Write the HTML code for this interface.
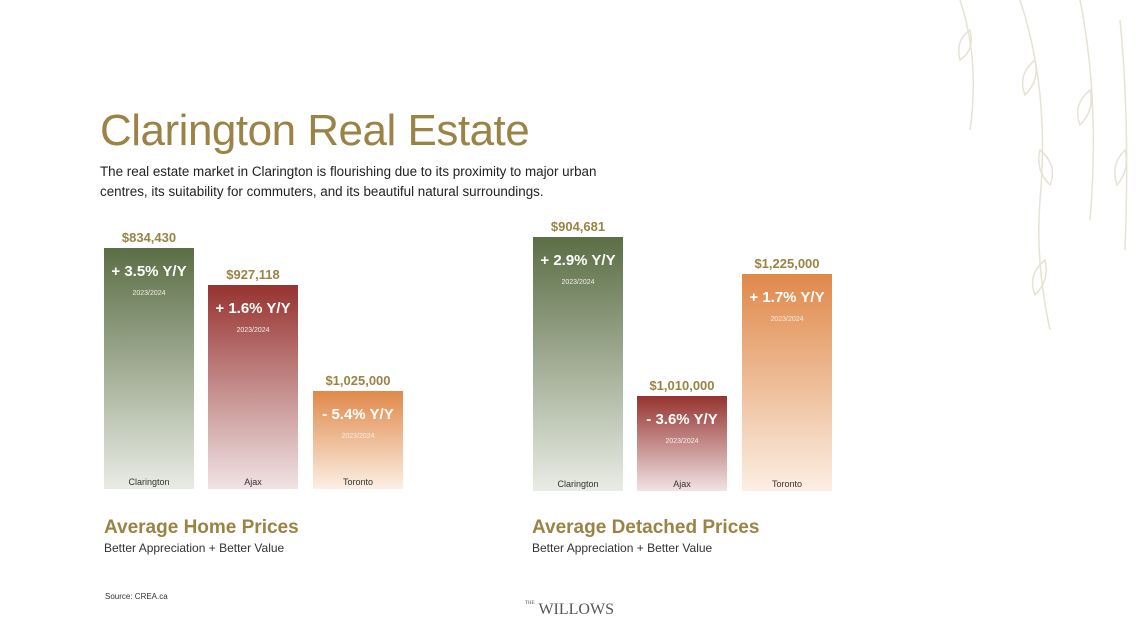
<!DOCTYPE html>
<html><head><style>
body{margin:0;width:1140px;height:638px;background:#fff;position:relative;overflow:hidden;font-family:"Liberation Sans",sans-serif}
.a{position:absolute}
h1{position:absolute;left:100px;top:106px;margin:0;font-weight:400;font-size:44px;color:#9a8344;letter-spacing:-0.5px}
.p{left:100px;top:162px;font-size:13.4px;line-height:20px;color:#222;width:520px}
.bar{position:absolute;width:90px}
.g{background:linear-gradient(#5b6e45,#e9ece5)}
.r{background:linear-gradient(#963330,#f1e3e4)}
.o{background:linear-gradient(#e0894a,#fcefe4)}
.v{position:absolute;width:120px;margin-left:-15px;text-align:center;font-weight:700;font-size:13px;color:#9a8344}
.yy{position:absolute;top:15px;width:100%;text-align:center;color:#fff;font-weight:700;font-size:15px}
.yr{position:absolute;top:42px;width:100%;text-align:center;color:#f3eee6;font-size:7px}
.nm{position:absolute;bottom:2px;width:100%;text-align:center;color:#333;font-size:9px}
.t{font-weight:700;font-size:19px;color:#9a8344}
.s{font-size:12px;color:#333}
</style></head><body>
<svg class="a" style="left:940px;top:0" width="200" height="370" viewBox="0 0 200 370" fill="none" stroke="#e8e2d4" stroke-width="1.5">
<path d="M20 0 Q40 60 30 130"/><path d="M80 0 Q110 90 100 200 Q95 260 110 330"/><path d="M140 0 Q160 100 150 220"/><path d="M180 20 Q190 120 185 250"/>
<path d="M30 30 q-15 10 -10 30 q15 -10 10 -30z"/><path d="M95 60 q-18 15 -10 35 q15 -15 10 -35z"/><path d="M100 150 q18 15 10 35 q-15 -15 -10 -35z"/><path d="M150 90 q-18 15 -10 35 q15 -15 10 -35z"/><path d="M105 260 q-18 15 -10 35 q15 -15 10 -35z"/><path d="M185 150 q-15 15 -8 35 q13 -15 8 -35z"/>
</svg>
<h1>Clarington Real Estate</h1>
<div class="a p">The real estate market in Clarington is flourishing due to its proximity to major urban centres, its suitability for commuters, and its beautiful natural surroundings.</div>

<div class="v" style="left:104px;top:230px">$834,430</div>
<div class="bar g" style="left:104px;top:248px;height:241px"><div class="yy">+ 3.5% Y/Y</div><div class="yr">2023/2024</div><div class="nm">Clarington</div></div>
<div class="v" style="left:208px;top:267px">$927,118</div>
<div class="bar r" style="left:208px;top:285px;height:204px"><div class="yy">+ 1.6% Y/Y</div><div class="yr">2023/2024</div><div class="nm">Ajax</div></div>
<div class="v" style="left:313px;top:373px">$1,025,000</div>
<div class="bar o" style="left:313px;top:391px;height:98px"><div class="yy">- 5.4% Y/Y</div><div class="yr">2023/2024</div><div class="nm">Toronto</div></div>

<div class="v" style="left:533px;top:219px">$904,681</div>
<div class="bar g" style="left:533px;top:237px;height:254px"><div class="yy">+ 2.9% Y/Y</div><div class="yr">2023/2024</div><div class="nm">Clarington</div></div>
<div class="v" style="left:637px;top:378px">$1,010,000</div>
<div class="bar r" style="left:637px;top:396px;height:95px"><div class="yy">- 3.6% Y/Y</div><div class="yr">2023/2024</div><div class="nm">Ajax</div></div>
<div class="v" style="left:742px;top:256px">$1,225,000</div>
<div class="bar o" style="left:742px;top:274px;height:217px"><div class="yy">+ 1.7% Y/Y</div><div class="yr">2023/2024</div><div class="nm">Toronto</div></div>

<div class="a t" style="left:104px;top:517px">Average Home Prices</div>
<div class="a s" style="left:104px;top:541px">Better Appreciation + Better Value</div>
<div class="a t" style="left:532px;top:517px">Average Detached Prices</div>
<div class="a s" style="left:532px;top:541px">Better Appreciation + Better Value</div>
<div class="a" style="left:105px;top:592px;font-size:8px;color:#333">Source: CREA.ca</div>
<div class="a" style="left:525px;top:601px;font-family:'Liberation Serif',serif;color:#555;font-size:16px"><span style="font-size:5px;vertical-align:top">THE</span> WILLOWS</div>
</body></html>
